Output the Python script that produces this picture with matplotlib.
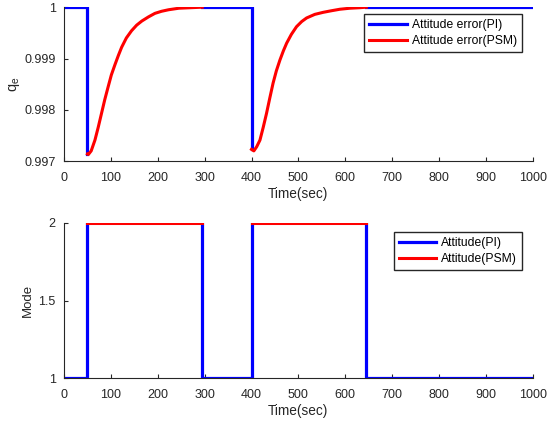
import numpy as np
import matplotlib
matplotlib.use("Agg")
import matplotlib.pyplot as plt

plt.rcParams['font.family'] = ['Liberation Sans', 'DejaVu Sans']
plt.rcParams['mathtext.default'] = 'regular'

# attitude error, PI segments (nan separates pieces)
t_pi = [0, 50, 50, np.nan, 295, 400, 400, np.nan, 645, 1000]
q_pi = [1, 1, 0.99714, np.nan, 1, 1, 0.99723, np.nan, 1, 1]

# attitude error, PSM recovery curves
t_psm = [50, 52, 58, 66, 73, 80, 87, 94.5, 101, 108.7, 116, 123, 133, 144, 155,
         166, 180, 194, 208, 223, 245, 270, 295, np.nan,
         400, 405, 411, 418, 425, 432, 439, 446, 453, 460.6, 468, 475, 485, 496,
         507, 517.5, 535, 553, 570, 588.5, 610, 631, 645]
q_psm = [0.99714, 0.99713, 0.99720, 0.99741, 0.99766, 0.99793, 0.99820, 0.99846,
         0.99868, 0.99888, 0.99906, 0.99922, 0.99940, 0.99954, 0.99965, 0.99973,
         0.99981, 0.99988, 0.99992, 0.99995, 0.99998, 0.99999, 1.0, np.nan,
         0.99723, 0.99720, 0.99728, 0.99741, 0.99766, 0.99793, 0.99823, 0.99852,
         0.99876, 0.99897, 0.99915, 0.99930, 0.99947, 0.99962, 0.99972, 0.99979,
         0.99986, 0.99990, 0.99993, 0.99996, 0.99998, 0.99999, 1.0]

# mode
t_mode_pi = [0, 50, 50, np.nan, 295, 295, 400, 400, np.nan, 645, 645, 1000]
m_mode_pi = [1, 1, 2, np.nan, 2, 1, 1, 2, np.nan, 2, 1, 1]
t_mode_psm = [50, 295, np.nan, 400, 645]
m_mode_psm = [2, 2, np.nan, 2, 2]

xticks = [0, 100, 200, 300, 400, 500, 600, 700, 800, 900, 1000]
q_ticks = [0.997, 0.998, 0.999, 1.0]
q_ticklabels = ['0.997', '0.998', '0.999', '1']
m_ticks = [1, 1.5, 2]
m_ticklabels = ['1', '1.5', '2']

blue = '#0000ff'
red = '#ff0000'
txt = '#262626'

fig = plt.figure(figsize=(5.47, 4.23), dpi=100)
ax1 = fig.add_axes([0.117, 0.619, 0.857, 0.364])
ax2 = fig.add_axes([0.117, 0.106, 0.857, 0.367])

leg_kw = dict(loc='upper right', fontsize=8.7, handlelength=3.1,
              borderpad=0.4, labelspacing=0.35, handletextpad=0.4,
              fancybox=False, edgecolor='#262626', framealpha=1,
              borderaxespad=0)

ax1.plot(t_pi, q_pi, color=blue, lw=2.3, label='Attitude error(PI)')
ax1.plot(t_psm, q_psm, color=red, lw=2.2, label='Attitude error(PSM)')
ax1.set_ylim(0.997, 1.0)
ax1.set_yticks(q_ticks)
ax1.set_yticklabels(q_ticklabels)
ax1.set_ylabel('q$_e$', fontsize=10.5, color=txt, labelpad=2)
ax1.legend(bbox_to_anchor=(0.976, 0.955), **leg_kw)

ax2.plot(t_mode_pi, m_mode_pi, color=blue, lw=2.3, label='Attitude(PI)')
ax2.plot(t_mode_psm, m_mode_psm, color=red, lw=2.2, label='Attitude(PSM)')
ax2.set_ylim(1, 2)
ax2.set_yticks(m_ticks)
ax2.set_yticklabels(m_ticklabels)
ax2.set_ylabel('Mode', fontsize=9.5, color=txt, labelpad=3)
ax2.legend(bbox_to_anchor=(0.976, 0.942), **leg_kw)

for ax in (ax1, ax2):
    ax.set_xlim(0, 1000)
    ax.set_xticks(xticks)
    ax.set_xlabel('Time(sec)', fontsize=9.8, color=txt, labelpad=2)
    ax.spines['top'].set_visible(False)
    ax.spines['right'].set_visible(False)
    for s in ('left', 'bottom'):
        ax.spines[s].set_color(txt)
        ax.spines[s].set_linewidth(0.8)
    ax.tick_params(direction='in', length=3, width=0.8, colors=txt,
                   labelsize=9, pad=6)
    ax.tick_params(axis='x', pad=8)

fig.savefig('out.png', dpi=100)
